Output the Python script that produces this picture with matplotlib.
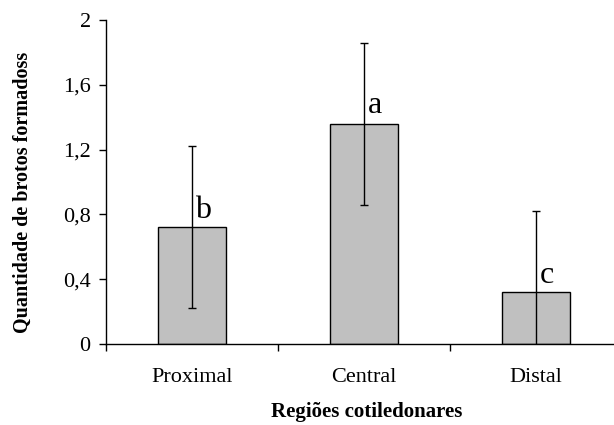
import matplotlib.pyplot as plt

regioes = ["Proximal", "Central", "Distal"]
brotos = [0.72, 1.36, 0.32]
erro = [0.5, 0.5, 0.5]
letras = ["b", "a", "c"]
letra_y = [0.78, 1.425, 0.377]
y_ticks = [0, 0.4, 0.8, 1.2, 1.6, 2.0]
y_tick_labels = ["0", "0,4", "0,8", "1,2", "1,6", "2"]

plt.rcParams["font.family"] = "Liberation Serif"

fig = plt.figure(figsize=(6.14, 4.25), dpi=100)
ax = fig.add_axes([106 / 614, 1 - 344 / 425, (622 - 106) / 614, (344 - 20) / 425])

x = list(range(len(regioes)))
ax.bar(x, brotos, width=0.395, color="#c0c0c0", edgecolor="black", linewidth=1, zorder=2)
ax.errorbar(x, brotos, yerr=erro, fmt="none", ecolor="black", elinewidth=1,
            capsize=3, capthick=1, zorder=3)

# letras de significancia
for xi, yi, lt in zip(x, letra_y, letras):
    ax.text(xi + 0.02, yi, lt, fontsize=23, ha="left", va="baseline", zorder=4)

ax.set_xlim(-0.5, 2.5)
ax.set_ylim(0, 2)
ax.set_yticks(y_ticks)
ax.set_yticklabels(y_tick_labels, fontsize=16)
ax.set_xticks([-0.5, 0.5, 1.5, 2.5])
ax.set_xticklabels([])
ax.set_xticks(x, minor=True)
ax.set_xticklabels(regioes, minor=True, fontsize=16)
ax.tick_params(axis="x", which="minor", length=0, pad=17)
ax.tick_params(axis="x", which="major", length=5, width=1, direction="out")
ax.tick_params(axis="y", length=5, width=1, direction="out", pad=6)

ax.spines["top"].set_visible(False)
ax.spines["right"].set_visible(False)
ax.spines["left"].set_linewidth(1)
ax.spines["bottom"].set_linewidth(1)

fig.text(367 / 614, 1 - 412 / 425, "Regiões cotiledonares", fontsize=15,
         fontweight="bold", ha="center", va="center")
fig.text(23 / 614, 1 - 192 / 425, "Quantidade de brotos formadoss", fontsize=14.5,
         fontweight="bold", ha="center", va="center", rotation=90)

fig.savefig("out.png", dpi=100)
